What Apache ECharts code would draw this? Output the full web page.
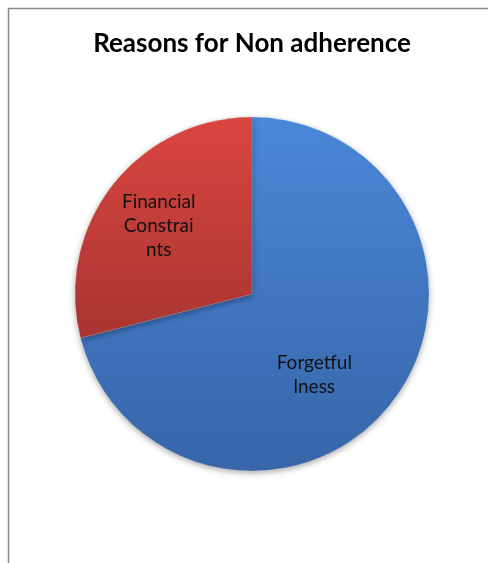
<!DOCTYPE html>
<html><head><meta charset="utf-8">
<script src="https://cdn.jsdelivr.net/npm/echarts@6/dist/echarts.min.js"></script>
<style>html,body{margin:0;padding:0;background:#fff}#c{width:488px;height:563px}</style>
</head><body><div id="c"></div>
<script>
const titleText = 'Reasons for Non adherence';
const categories = ['Forgetfulness', 'Financial Constraints'];
const labelTexts = ['Forgetful\nlness', 'Financial\nConstrai\nnts'];
const values = [71, 29];
const labelShift = [[-10, 25], [-21, -12]];

const colors = [
  new echarts.graphic.LinearGradient(0, 0, 0, 1, [{offset: 0, color: '#4a88d8'}, {offset: 1, color: '#3765a8'}]),
  new echarts.graphic.LinearGradient(0, 0, 0, 1, [{offset: 0, color: '#da4640'}, {offset: 1, color: '#a93431'}])
];

const chart = echarts.init(document.getElementById('c'));
chart.setOption({
  animation: false,
  title: {
    text: titleText, left: 247, textAlign: 'center', top: 26,
    textStyle: {fontFamily: 'Lato', fontWeight: 'bold', fontSize: 26, color: '#000'}
  },
  graphic: [{
    type: 'rect', shape: {x: 8.5, y: 8.5, width: 500, height: 600},
    style: {fill: 'none', stroke: '#8a8a8a', lineWidth: 1.5}, silent: true
  }],
  series: [{
    type: 'pie',
    center: [252, 294],
    radius: 177,
    startAngle: 90,
    clockwise: true,
    data: categories.map((c, i) => ({
      name: c, value: values[i],
      itemStyle: {color: colors[i]},
      label: {formatter: labelTexts[i]}
    })),
    itemStyle: {
      shadowBlur: 6, shadowColor: 'rgba(0,0,0,0.35)', shadowOffsetY: 2,
      borderColor: 'rgba(255,255,255,0.15)', borderWidth: 1
    },
    label: {
      position: 'inside', color: '#111', fontFamily: 'Lato', fontSize: 19, lineHeight: 24, align: 'center'
    },
    labelLine: {show: false},
    labelLayout: function (p) {
      return {dx: labelShift[p.dataIndex][0], dy: labelShift[p.dataIndex][1]};
    }
  }]
});
</script></body></html>
